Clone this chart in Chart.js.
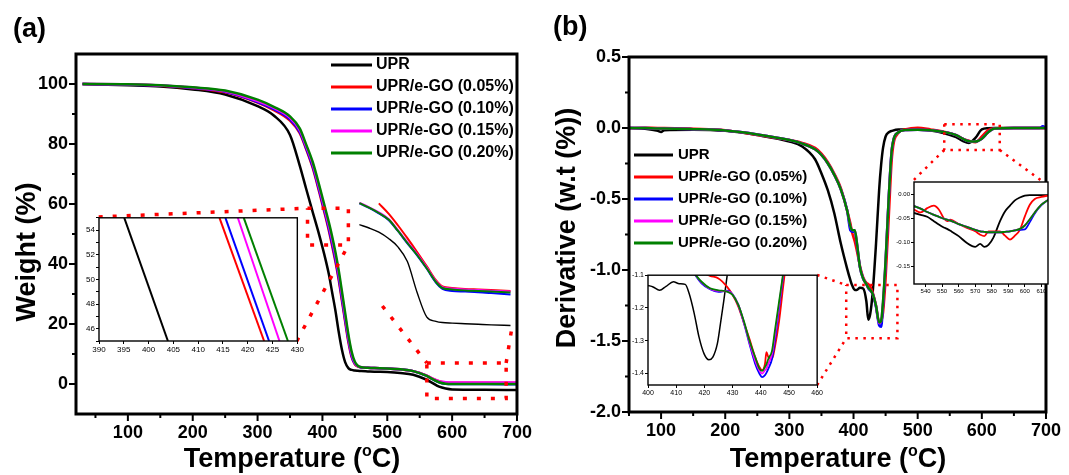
<!DOCTYPE html>
<html>
<head>
<meta charset="utf-8">
<script src="https://cdn.jsdelivr.net/npm/chart.js@4.4.1/dist/chart.umd.min.js"></script>
<style>
  html, body { margin: 0; padding: 0; background: #fff; }
  #wrap { position: relative; width: 1069px; height: 475px; overflow: hidden; background: #fff; }
  canvas { position: absolute; }
</style>
</head>
<body>
<div id="wrap">
  <canvas id="tga" width="540" height="475" style="left:0;top:0"></canvas>
  <canvas id="dtg" width="529" height="475" style="left:540px;top:0"></canvas>
  <canvas id="tgaInset" width="225" height="145" style="left:80px;top:212px"></canvas>
  <canvas id="dtgInsetL" width="196" height="128" style="left:628px;top:270px"></canvas>
  <canvas id="dtgInsetR" width="160" height="122" style="left:893px;top:177px"></canvas>
</div>
<script>
const FONT = "'Liberation Sans', Arial, Helvetica, sans-serif";

// legend
const seriesNames = ['UPR', 'UPR/e-GO (0.05%)', 'UPR/e-GO (0.10%)', 'UPR/e-GO (0.15%)', 'UPR/e-GO (0.20%)'];
const seriesColors = ['#000000', '#ff0000', '#0000ff', '#ff00ff', '#008000'];

// (a) TGA main curves
const tgaTemp = [30, 100, 150, 200, 250, 300, 325, 350, 365, 375, 385, 395, 405, 410, 415, 420, 425, 430, 435, 440, 445, 450, 455, 460, 470, 480, 500, 520, 540, 560, 570, 580, 590, 600, 650, 700];
const tgaUPR = [100, 99.6, 99.2, 98.2, 96.5, 92.6, 89.5, 83.0, 72.8, 65.0, 57.3, 49.7, 41.3, 36.5, 30.5, 24.5, 17.5, 11.5, 7.3, 5.3, 4.7, 4.5, 4.4, 4.3, 4.2, 4.1, 4.0, 3.7, 3.1, 1.5, 0.3, -0.9, -1.5, -1.8, -1.9, -2.0];
const tga005 = [100, 99.8, 99.4, 98.6, 97.2, 93.8, 91.3, 87.8, 83.6, 78.2, 72.0, 64.0, 55.5, 51.0, 46.0, 40.8, 34.8, 27.8, 20.8, 14.0, 9.0, 6.6, 5.8, 5.5, 5.4, 5.3, 5.2, 4.9, 4.3, 2.9, 1.8, 0.9, 0.5, 0.4, 0.4, 0.4];
const tga010 = [100, 99.8, 99.5, 98.7, 97.4, 94.0, 91.6, 88.2, 84.0, 78.6, 72.5, 64.6, 56.2, 51.7, 46.8, 41.6, 35.6, 28.6, 21.5, 14.7, 9.4, 6.8, 5.9, 5.5, 5.4, 5.3, 5.2, 4.9, 4.3, 2.8, 1.6, 0.6, 0.1, 0.0, 0.0, -0.1];
const tga015 = [100, 99.9, 99.5, 98.8, 97.6, 94.3, 92.0, 88.7, 84.6, 79.2, 73.3, 65.4, 57.0, 52.7, 48.0, 42.8, 36.8, 29.8, 22.6, 15.6, 10.0, 7.0, 5.9, 5.6, 5.4, 5.3, 5.2, 4.9, 4.3, 2.9, 1.8, 0.9, 0.6, 0.5, 0.5, 0.5];
const tga020 = [100, 99.9, 99.6, 98.9, 97.8, 94.8, 92.4, 89.2, 85.2, 79.8, 74.0, 66.3, 58.0, 53.8, 49.2, 44.0, 38.0, 31.0, 23.8, 16.5, 10.8, 7.4, 6.0, 5.6, 5.4, 5.3, 5.2, 4.9, 4.3, 2.8, 1.6, 0.6, 0.1, 0.0, 0.0, 0.0];

// (a) magnified 450-700 curves drawn at the right of the plot
const magTemp = [457, 472, 487, 502, 516, 531, 546, 561, 575, 585, 600, 620, 640, 660, 690];
const magUPR = [53.1, 52.0, 50.6, 48.5, 45.8, 40.8, 30.5, 22.3, 20.9, 20.5, 20.3, 20.1, 19.9, 19.7, 19.5];
const mag005 = [null, null, 60.2, 56.8, 53.0, 48.6, 44.0, 39.2, 34.6, 32.5, 32.0, 31.7, 31.5, 31.3, 31.0];
const mag010 = [60.2, 58.7, 56.9, 54.7, 51.1, 46.9, 42.9, 38.4, 33.8, 31.7, 31.0, 30.8, 30.6, 30.3, 29.8];
const mag015 = [60.4, 58.9, 57.2, 55.0, 51.4, 47.3, 43.3, 38.8, 34.3, 32.3, 31.8, 31.5, 31.3, 31.1, 30.8];
const mag020 = [60.3, 58.8, 57.0, 54.8, 51.2, 47.0, 43.0, 38.5, 34.0, 32.0, 31.5, 31.2, 31.0, 30.8, 30.5];

// (a) dotted zoom marks
const boxA1X = [377, 440, 440, 377, 377];
const boxA1Y = [58.6, 58.6, 46.3, 46.3, 58.6];
const linkA1X = [55, 377], linkA1Y = [55.7, 58.6];
const linkA2X = [360.4, 440], linkA2Y = [14.3, 46.3];
const boxA2X = [561, 683.3, 683.3, 561, 561];
const boxA2Y = [7, 7, -4.8, -4.8, 7];
const linkA3X = [492.4, 561], linkA3Y = [26, 7];
const linkA4X = [691.2, 683.3], linkA4Y = [17.5, 7];

// (a) ticks
const tgaXTicks = [50, 100, 150, 200, 250, 300, 350, 400, 450, 500, 550, 600, 650, 700];
const tgaYTicks = [0, 10, 20, 30, 40, 50, 60, 70, 80, 90, 100];

// (a) inset 390-430 / 45-55 (straight segments between y = 55 and y = 45)
const insetAY = [55, 45];
const insetAUPR = [395.1, 403.9];
const insetA005 = [414.3, 423.3];
const insetA010 = [415.5, 424.3];
const insetA015 = [418.0, 426.4];
const insetA020 = [419.2, 428.1];
const insetAXTicks = [390, 395, 400, 405, 410, 415, 420, 425, 430];
const insetAYTicks = [45, 46, 47, 48, 49, 50, 51, 52, 53, 54, 55];

// (b) DTG main curves
const dtgTemp = [50, 75, 95, 100, 105, 150, 200, 250, 300, 320, 340, 350, 360, 370, 380, 390, 395, 398, 402, 405, 410, 415, 420, 423, 426, 430, 435, 440, 443, 446, 450, 455, 460, 470, 480, 500, 520, 540, 560, 570, 580, 590, 600, 610, 620, 650, 690, 695, 700];
const dtgUPR = [0, -0.005, -0.02, -0.028, -0.015, -0.012, -0.02, -0.05, -0.095, -0.13, -0.22, -0.32, -0.44, -0.6, -0.81, -0.99, -1.07, -1.11, -1.14, -1.14, -1.125, -1.13, -1.22, -1.35, -1.31, -1.15, -0.82, -0.43, -0.26, -0.14, -0.06, -0.03, -0.02, -0.01, -0.01, -0.012, -0.018, -0.035, -0.065, -0.09, -0.105, -0.07, -0.01, -0.002, 0, 0, 0, 0, 0];
const dtg005 = [0, 0.002, 0, 0, 0, -0.005, -0.015, -0.05, -0.085, -0.105, -0.14, -0.18, -0.24, -0.32, -0.42, -0.58, -0.67, -0.74, -0.8, -0.86, -0.97, -1.05, -1.09, -1.1, -1.115, -1.16, -1.25, -1.37, -1.36, -1.3, -1.06, -0.62, -0.2, -0.035, -0.01, 0.002, -0.01, -0.025, -0.05, -0.075, -0.09, -0.1, -0.06, -0.015, -0.002, 0, 0, 0, 0];
const dtg010 = [0, 0, -0.003, -0.003, -0.003, -0.008, -0.018, -0.045, -0.085, -0.11, -0.15, -0.19, -0.25, -0.33, -0.43, -0.58, -0.72, -0.73, -0.73, -0.81, -0.98, -1.06, -1.1, -1.13, -1.145, -1.17, -1.26, -1.39, -1.4, -1.25, -0.95, -0.48, -0.14, -0.03, -0.015, -0.012, -0.016, -0.028, -0.05, -0.075, -0.093, -0.095, -0.075, -0.03, -0.004, 0, 0, 0.012, 0];
const dtg015 = [0, 0, -0.003, -0.003, -0.003, -0.008, -0.018, -0.045, -0.085, -0.11, -0.15, -0.19, -0.25, -0.33, -0.43, -0.58, -0.69, -0.72, -0.72, -0.8, -0.98, -1.06, -1.1, -1.125, -1.14, -1.17, -1.25, -1.375, -1.36, -1.23, -0.94, -0.48, -0.14, -0.03, -0.015, -0.012, -0.016, -0.028, -0.05, -0.075, -0.093, -0.095, -0.075, -0.03, -0.004, 0, 0, 0, 0];
const dtg020 = [0, 0, -0.003, -0.003, -0.003, -0.008, -0.018, -0.045, -0.085, -0.11, -0.15, -0.19, -0.25, -0.33, -0.43, -0.58, -0.69, -0.72, -0.72, -0.8, -0.98, -1.06, -1.1, -1.125, -1.14, -1.17, -1.25, -1.37, -1.36, -1.22, -0.93, -0.48, -0.14, -0.03, -0.015, -0.012, -0.016, -0.028, -0.05, -0.075, -0.093, -0.095, -0.075, -0.03, -0.004, 0, 0, 0, 0];

// (b) dotted zoom marks
const boxB1X = [388.6, 468.4, 468.4, 388.6, 388.6];
const boxB1Y = [-1.106, -1.106, -1.481, -1.481, -1.106];
const linkB1X = [343.3, 388.6], linkB1Y = [-1.035, -1.106];
const linkB2X = [343.3, 388.6], linkB2Y = [-1.81, -1.481];
const boxB2X = [541.4, 627.9, 627.9, 541.4, 541.4];
const boxB2Y = [0.026, 0.026, -0.155, -0.155, 0.026];
const linkB3X = [541.4, 490.2], linkB3Y = [-0.155, -0.382];
const linkB4X = [627.9, 696.4], linkB4Y = [-0.155, -0.382];

// (b) ticks
const dtgXTicks = [50, 100, 150, 200, 250, 300, 350, 400, 450, 500, 550, 600, 650, 700];
const dtgYTicks = [-2, -1.75, -1.5, -1.25, -1, -0.75, -0.5, -0.25, 0, 0.25, 0.5];

// (b) left inset 400-460
const insetBLTempUPR = [400, 401.8, 404.1, 406.4, 409, 411.1, 413.2, 414.6, 416.4, 418.1, 419.9, 421.6, 423, 424.6, 425.7, 426.9, 428.1, 429];
const insetBLUPR = [-1.131, -1.136, -1.146, -1.134, -1.12, -1.126, -1.128, -1.156, -1.217, -1.289, -1.34, -1.358, -1.35, -1.309, -1.248, -1.177, -1.1, -1.04];
const insetBLTemp = [416, 419, 422, 425, 428, 430, 432, 434, 436, 438, 439.5, 440.5, 441.5, 442, 442.7, 444, 445, 446.5, 448, 449];
const insetBL005 = [-1.07, -1.09, -1.102, -1.11, -1.135, -1.16, -1.195, -1.245, -1.295, -1.35, -1.38, -1.39, -1.37, -1.335, -1.35, -1.355, -1.32, -1.24, -1.13, -1.06];
const insetBL010 = [-1.09, -1.125, -1.143, -1.151, -1.147, -1.158, -1.19, -1.245, -1.31, -1.37, -1.4, -1.411, -1.405, -1.398, -1.385, -1.355, -1.3, -1.2, -1.1, -1.03];
const insetBL015 = [-1.09, -1.122, -1.141, -1.148, -1.149, -1.159, -1.19, -1.243, -1.305, -1.36, -1.39, -1.4, -1.39, -1.385, -1.37, -1.34, -1.285, -1.19, -1.095, -1.025];
const insetBL020 = [-1.09, -1.12, -1.14, -1.146, -1.15, -1.16, -1.19, -1.24, -1.3, -1.35, -1.385, -1.392, -1.38, -1.372, -1.355, -1.33, -1.27, -1.18, -1.09, -1.02];
const insetBLXTicks = [400, 410, 420, 430, 440, 450, 460];
const insetBLYTicks = [-1.4, -1.3, -1.2, -1.1];

// (b) right inset 533-614
const insetBRTemp = [533, 537, 541, 545, 548, 551, 553, 555, 560, 565, 570, 573, 575.5, 578, 581, 585, 588, 591, 594, 597, 600, 603, 606, 610, 614];
const insetBRUPR = [-0.039, -0.043, -0.047, -0.056, -0.063, -0.069, -0.072, -0.076, -0.087, -0.101, -0.109, -0.103, -0.109, -0.105, -0.09, -0.056, -0.036, -0.024, -0.013, -0.007, -0.003, -0.002, -0.002, -0.002, -0.002];
const insetBR005 = [-0.032, -0.038, -0.029, -0.024, -0.032, -0.05, -0.056, -0.053, -0.062, -0.07, -0.077, -0.084, -0.087, -0.077, -0.077, -0.077, -0.086, -0.094, -0.086, -0.074, -0.046, -0.022, -0.01, -0.006, -0.003];
const insetBR010 = [-0.025, -0.03, -0.037, -0.043, -0.047, -0.051, -0.053, -0.055, -0.062, -0.068, -0.074, -0.077, -0.078, -0.079, -0.079, -0.079, -0.078, -0.077, -0.075, -0.074, -0.073, -0.058, -0.04, -0.023, -0.012];
const insetBR015 = [-0.025, -0.03, -0.037, -0.043, -0.047, -0.051, -0.053, -0.055, -0.062, -0.068, -0.074, -0.077, -0.078, -0.079, -0.079, -0.079, -0.078, -0.077, -0.075, -0.072, -0.065, -0.052, -0.038, -0.022, -0.012];
const insetBR020 = [-0.025, -0.03, -0.037, -0.043, -0.047, -0.051, -0.053, -0.055, -0.062, -0.068, -0.074, -0.077, -0.078, -0.079, -0.079, -0.079, -0.078, -0.077, -0.075, -0.072, -0.065, -0.052, -0.038, -0.022, -0.012];
const insetBRXTicks = [540, 550, 560, 570, 580, 590, 600, 610];
const insetBRYTicks = [-0.15, -0.1, -0.05, 0];

Chart.defaults.font.family = FONT;
Chart.defaults.color = '#000';

function pts(xs, ys) {
    return xs.map((x, i) => ({ x: x, y: ys[i] })).filter(p => p.y !== null);
}

function curve(xs, ys, color, width, order) {
    return {
        data: pts(xs, ys),
        borderColor: color,
        borderWidth: width,
        pointRadius: 0,
        cubicInterpolationMode: 'monotone',
        fill: false,
        order: order
    };
}

function dotted(xs, ys, width, dash) {
    return {
        data: pts(xs, ys),
        borderColor: '#ff0000',
        borderWidth: width,
        borderDash: dash,
        borderCapStyle: 'butt',
        pointRadius: 0,
        tension: 0,
        fill: false,
        order: 0
    };
}

// frame, outward ticks, legend, axis titles
const panelDeco = {
    id: 'panelDeco',
    afterDraw(chart, args, o) {
        const ctx = chart.ctx;
        const a = chart.chartArea;
        const xs = chart.scales.x, ys = chart.scales.y;
        ctx.save();
        ctx.strokeStyle = '#000';
        ctx.lineWidth = 2;
        ctx.beginPath();
        xs.ticks.forEach(t => {
            const p = xs.getPixelForValue(t.value);
            const len = t.label ? 7 : 4;
            ctx.moveTo(p, a.bottom);
            ctx.lineTo(p, a.bottom + len);
        });
        ys.ticks.forEach(t => {
            const p = ys.getPixelForValue(t.value);
            const len = t.label ? 7 : 4;
            ctx.moveTo(a.left, p);
            ctx.lineTo(a.left - len, p);
        });
        ctx.stroke();

        ctx.lineWidth = 3;
        ctx.strokeRect(a.left, a.top, a.right - a.left, a.bottom - a.top);

        // legend
        const lg = o.legend;
        ctx.font = 'bold ' + lg.size + 'px ' + FONT;
        ctx.textBaseline = 'middle';
        ctx.textAlign = 'left';
        seriesNames.forEach((name, i) => {
            const y = lg.y + i * lg.dy;
            ctx.strokeStyle = seriesColors[i];
            ctx.lineWidth = 3;
            ctx.beginPath();
            ctx.moveTo(lg.x, y);
            ctx.lineTo(lg.x + lg.len, y);
            ctx.stroke();
            ctx.fillStyle = '#000';
            ctx.fillText(name, lg.x + lg.len + lg.gap, y);
        });

        // x title with raised "o"
        const size = 27;
        const main = 'bold ' + size + 'px ' + FONT;
        const sup = 'bold 16px ' + FONT;
        ctx.fillStyle = '#000';
        ctx.textBaseline = 'alphabetic';
        ctx.font = main;
        const w1 = ctx.measureText('Temperature (').width;
        const w3 = ctx.measureText('C)').width;
        ctx.font = sup;
        const w2 = ctx.measureText('o').width;
        let cx = o.xTitleX - (w1 + w2 + w3) / 2;
        ctx.font = main;
        ctx.fillText('Temperature (', cx, o.xTitleY);
        cx += w1;
        ctx.font = sup;
        ctx.fillText('o', cx, o.xTitleY - 11);
        cx += w2;
        ctx.font = main;
        ctx.fillText('C)', cx, o.xTitleY);

        // y title
        ctx.save();
        ctx.translate(o.yTitle.x, o.yTitle.y);
        ctx.rotate(-Math.PI / 2);
        ctx.textAlign = 'center';
        ctx.font = main;
        ctx.fillText(o.yTitle.text, 0, 0);
        ctx.restore();

        // panel tag
        ctx.font = 'bold 27px ' + FONT;
        ctx.textAlign = 'left';
        ctx.fillText(o.tag.text, o.tag.x, o.tag.y);
        ctx.restore();
    }
};

const insetFrame = {
    id: 'insetFrame',
    beforeDraw(chart) {
        const a = chart.chartArea, ctx = chart.ctx;
        ctx.save();
        ctx.fillStyle = '#fff';
        ctx.fillRect(a.left, a.top, a.right - a.left, a.bottom - a.top);
        ctx.restore();
    },
    afterDraw(chart) {
        const a = chart.chartArea, ctx = chart.ctx;
        ctx.save();
        ctx.strokeStyle = '#000';
        ctx.lineWidth = 1.4;
        ctx.strokeRect(a.left, a.top, a.right - a.left, a.bottom - a.top);
        ctx.restore();
    }
};

function mainScale(min, max, tickList, labelFn, fitKey, fitSize) {
    return {
        type: 'linear',
        min: min,
        max: max,
        afterBuildTicks: s => { s.ticks = tickList.map(v => ({ value: v })); },
        afterFit: s => { s[fitKey] = fitSize; },
        grid: { display: false, drawTicks: false },
        border: { display: false },
        ticks: {
            font: { size: 18, weight: 'bold' },
            color: '#000',
            padding: 8,
            maxRotation: 0,
            autoSkip: false,
            callback: labelFn
        }
    };
}

function insetScale(min, max, tickList, labelFn, fitKey, fitSize, fontSize) {
    return {
        type: 'linear',
        min: min,
        max: max,
        afterBuildTicks: s => { s.ticks = tickList.map(v => ({ value: v })); },
        afterFit: s => { s[fitKey] = fitSize; },
        grid: { drawOnChartArea: false, drawTicks: true, tickLength: 3, color: '#000', lineWidth: 1 },
        border: { display: false },
        ticks: {
            font: { size: fontSize },
            color: '#000',
            padding: 1,
            maxRotation: 0,
            autoSkip: false,
            callback: labelFn
        }
    };
}

const baseOpts = {
    responsive: false,
    animation: false,
    devicePixelRatio: 1,
    events: []
};

// ---------- (a) TGA ----------
const tgaSeries = [tgaUPR, tga005, tga010, tga015, tga020];
const magSeries = [magUPR, mag005, mag010, mag015, mag020];
const tgaSets = [];
tgaSeries.forEach((s, i) => tgaSets.push(curve(tgaTemp, s, seriesColors[i], 2.5, 5 - i)));
magSeries.forEach((s, i) => tgaSets.push(curve(magTemp, s, seriesColors[i], i === 0 ? 1.4 : 2, 5 - i)));
[[boxA1X, boxA1Y], [linkA1X, linkA1Y], [linkA2X, linkA2Y], [boxA2X, boxA2Y], [linkA3X, linkA3Y], [linkA4X, linkA4Y]]
    .forEach(d => tgaSets.push(dotted(d[0], d[1], 3.5, [4, 10])));

new Chart(document.getElementById('tga'), {
    type: 'line',
    data: { datasets: tgaSets },
    options: Object.assign({}, baseOpts, {
        layout: { padding: { left: 0, right: 18.5, top: 54, bottom: 0 } },
        plugins: {
            legend: { display: false },
            tooltip: { enabled: false },
            panelDeco: {
                legend: { x: 331, y: 65, dy: 22, len: 41, gap: 4, size: 16 },
                xTitleX: 292,
                xTitleY: 467,
                yTitle: { x: 35, y: 252, text: 'Weight (%)' },
                tag: { x: 13, y: 37, text: '(a)' }
            }
        },
        scales: {
            x: mainScale(20, 700, tgaXTicks, v => (v % 100 === 0 ? String(v) : ''), 'height', 61),
            y: mainScale(-10, 110, tgaYTicks, v => (v % 20 === 0 ? String(v) : ''), 'width', 76)
        }
    }),
    plugins: [panelDeco]
});

// (a) inset
const insetASeries = [insetAUPR, insetA005, insetA010, insetA015, insetA020];
new Chart(document.getElementById('tgaInset'), {
    type: 'line',
    data: {
        datasets: insetASeries.map((xs, i) => ({
            data: pts(xs, insetAY),
            borderColor: seriesColors[i],
            borderWidth: 2,
            pointRadius: 0,
            tension: 0
        }))
    },
    options: Object.assign({}, baseOpts, {
        layout: { padding: { left: 0, right: 6, top: 5, bottom: 0 } },
        plugins: { legend: { display: false }, tooltip: { enabled: false } },
        scales: {
            x: insetScale(390, 430, insetAXTicks, v => String(v), 'height', 16, 8),
            y: insetScale(45, 55, insetAYTicks, v => (v % 2 === 0 ? String(v) : ''), 'width', 19, 8)
        }
    }),
    plugins: [insetFrame]
});

// ---------- (b) DTG ----------
const dtgSeries = [dtgUPR, dtg005, dtg010, dtg015, dtg020];
const dtgSets = dtgSeries.map((s, i) => curve(dtgTemp, s, seriesColors[i], 2.5, 5 - i));
[[boxB1X, boxB1Y], [linkB1X, linkB1Y], [linkB2X, linkB2Y], [boxB2X, boxB2Y], [linkB3X, linkB3Y], [linkB4X, linkB4Y]]
    .forEach(d => dtgSets.push(dotted(d[0], d[1], 2.5, [2.5, 5.5])));

new Chart(document.getElementById('dtg'), {
    type: 'line',
    data: { datasets: dtgSets },
    options: Object.assign({}, baseOpts, {
        layout: { padding: { left: 0, right: 19, top: 57, bottom: 0 } },
        plugins: {
            legend: { display: false },
            tooltip: { enabled: false },
            panelDeco: {
                legend: { x: 94, y: 155, dy: 22, len: 39, gap: 5, size: 15 },
                xTitleX: 298,
                xTitleY: 467,
                yTitle: { x: 35, y: 228, text: 'Derivative (w.t (%))' },
                tag: { x: 13, y: 35, text: '(b)' }
            }
        },
        scales: {
            x: mainScale(50, 700, dtgXTicks, v => (v % 100 === 0 ? String(v) : ''), 'height', 63),
            y: mainScale(-2, 0.5, dtgYTicks, v => (Math.abs(v * 2 - Math.round(v * 2)) < 1e-6 ? v.toFixed(1) : ''), 'width', 89)
        }
    }),
    plugins: [panelDeco]
});

// (b) left inset
const insetBLSets = [curve(insetBLTempUPR, insetBLUPR, seriesColors[0], 1.5, 5)];
[insetBL005, insetBL010, insetBL015, insetBL020].forEach((s, i) =>
    insetBLSets.push(curve(insetBLTemp, s, seriesColors[i + 1], 1.8, 4 - i)));
new Chart(document.getElementById('dtgInsetL'), {
    type: 'line',
    data: { datasets: insetBLSets },
    options: Object.assign({}, baseOpts, {
        layout: { padding: { left: 0, right: 5, top: 5, bottom: 0 } },
        plugins: { legend: { display: false }, tooltip: { enabled: false } },
        scales: {
            x: insetScale(400, 460, insetBLXTicks, v => String(v), 'height', 13, 7),
            y: insetScale(-1.435, -1.1, insetBLYTicks, v => v.toFixed(1), 'width', 20, 7)
        }
    }),
    plugins: [insetFrame]
});

// (b) right inset
const insetBRSets = [insetBRUPR, insetBR005, insetBR010, insetBR015, insetBR020]
    .map((s, i) => curve(insetBRTemp, s, seriesColors[i], 1.8, 5 - i));
new Chart(document.getElementById('dtgInsetR'), {
    type: 'line',
    data: { datasets: insetBRSets },
    options: Object.assign({}, baseOpts, {
        layout: { padding: { left: 0, right: 5, top: 5, bottom: 0 } },
        plugins: { legend: { display: false }, tooltip: { enabled: false } },
        scales: {
            x: insetScale(533, 614, insetBRXTicks, v => String(v), 'height', 15, 6),
            y: insetScale(-0.186, 0.025, insetBRYTicks, v => v.toFixed(2), 'width', 21, 6)
        }
    }),
    plugins: [insetFrame]
});
</script>
</body>
</html>
